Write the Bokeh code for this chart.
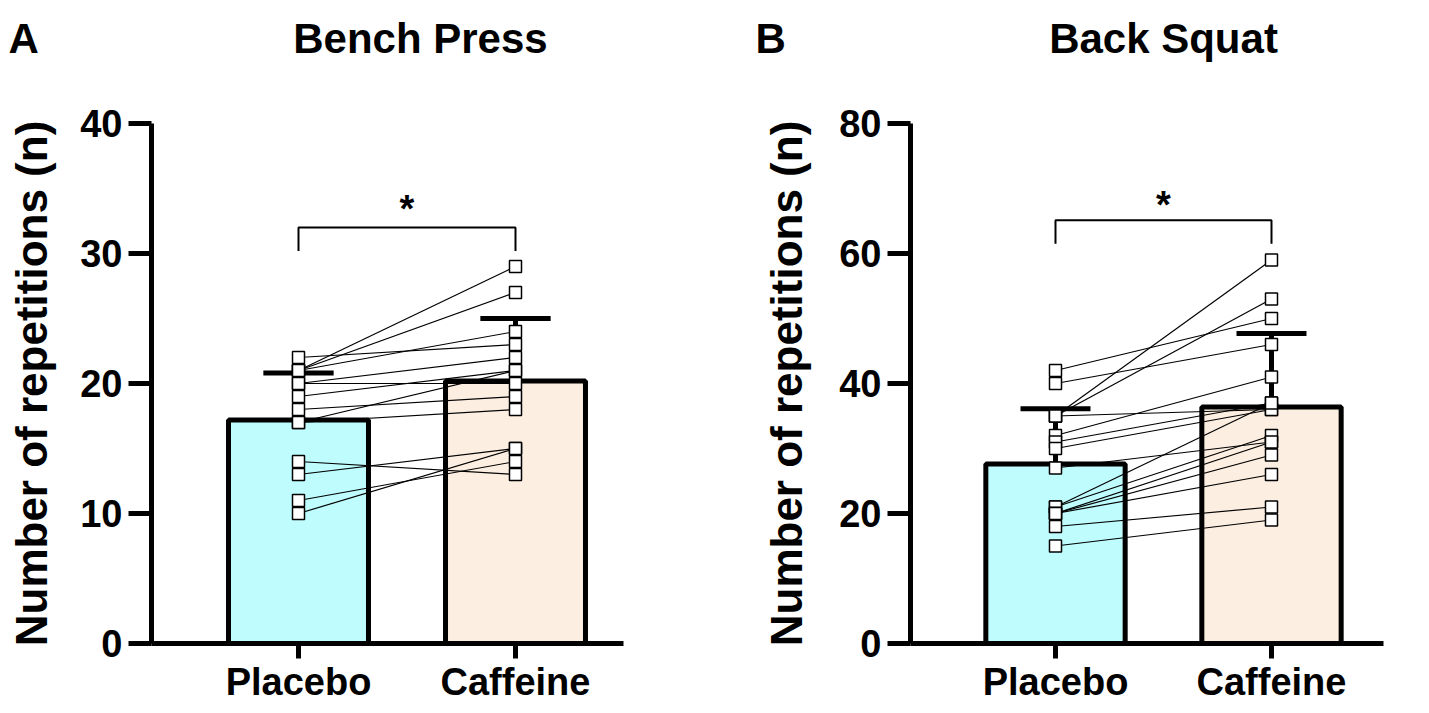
from bokeh.plotting import figure
from bokeh.layouts import row
from bokeh.models import Label, FixedTicker, LinearAxis
from bokeh.embed import file_html
from bokeh.resources import INLINE

# ---------------- data ----------------
groups = ["Placebo", "Caffeine"]

bench_placebo = [22, 21, 21, 21, 20, 20, 19, 18, 17, 17, 14, 13, 11, 10]
bench_caffeine = [23, 29, 27, 24, 20, 22, 21, 19, 21, 18, 13, 15, 14, 15]
bench_mean = [17.2, 20.2]
bench_sd = [3.6, 4.8]
bench_ticks = [0, 10, 20, 30, 40]

squat_placebo = [42, 40, 35, 35, 35, 32, 31, 30, 27, 21, 21, 20, 20, 20, 18, 15]
squat_caffeine = [50, 46, 59, 53, 36, 41, 37, 36, 31, 37, 32, 29, 31, 26, 21, 19]
squat_mean = [27.6, 36.4]
squat_sd = [8.5, 11.3]
squat_ticks = [0, 20, 40, 60, 80]

bar_colors = ["#BFFCFD", "#FCEEE0"]
FONT = "Liberation Sans"
H = 706


def make_panel(letter, letter_x, title, title_x, placebo, caffeine, mean, sd, ticks,
               width, x_range, y_range, yaxis_x, xaxis_end, bracket, star_y, title_y,
               ylabel_standoff):
    ymax = ticks[-1]
    p = figure(width=width, height=H, output_backend="svg", toolbar_location=None,
               x_range=x_range, y_range=y_range, x_axis_type=None, y_axis_type=None,
               min_border_left=0, min_border_right=0, min_border_top=0, min_border_bottom=0)
    p.outline_line_color = None
    p.background_fill_color = "white"
    p.border_fill_color = "white"

    xs = [1, 2]
    # bars
    p.vbar(x=xs, top=mean, width=0.645, bottom=0, fill_color=bar_colors,
           line_color="black", line_width=5)
    # error bars (upward only)
    tops = [m + s for m, s in zip(mean, sd)]
    p.segment(x0=xs, y0=mean, x1=xs, y1=tops, line_color="black", line_width=5)
    p.segment(x0=[x - 0.162 for x in xs], y0=tops, x1=[x + 0.162 for x in xs], y1=tops,
              line_color="black", line_width=5)
    # paired lines
    p.multi_line(xs=[[1, 2] for _ in placebo],
                 ys=[[a, b] for a, b in zip(placebo, caffeine)],
                 line_color="black", line_width=1.2)
    # points
    p.scatter(x=[1] * len(placebo) + [2] * len(caffeine), y=placebo + caffeine,
              marker="square", size=12, fill_color="white", line_color="black",
              line_width=1.5)
    # significance bracket
    y_low, y_high = bracket
    p.line(x=[1, 1, 2, 2], y=[y_low, y_high, y_high, y_low], line_color="black", line_width=2)
    p.add_layout(Label(x=1.5, y=star_y, text="*", text_align="center",
                       text_baseline="alphabetic",
                       text_font=FONT, text_font_style="bold", text_font_size="38px",
                       text_color="black"))
    # title and panel letter
    p.add_layout(Label(x=title_x, y=title_y, text=title, text_align="center",
                       text_baseline="alphabetic",
                       text_font=FONT, text_font_style="bold", text_font_size="42px",
                       text_color="black"))
    p.add_layout(Label(x=letter_x, y=title_y, text=letter, text_align="left",
                       text_baseline="alphabetic", text_font=FONT, text_font_style="bold",
                       text_font_size="42px", text_color="black"))

    # axes
    xa = LinearAxis(fixed_location=0, bounds=(yaxis_x, xaxis_end))
    xa.ticker = FixedTicker(ticks=xs)
    xa.major_label_overrides = {1: groups[0], 2: groups[1]}
    xa.axis_line_width = 5
    xa.major_tick_line_width = 5
    xa.major_tick_out = 15
    xa.major_tick_in = 0
    xa.minor_tick_line_color = None
    xa.major_label_standoff = 2
    xa.major_label_text_font = FONT
    xa.major_label_text_font_style = "bold"
    xa.major_label_text_font_size = "38px"
    xa.major_label_text_color = "black"
    p.add_layout(xa, "below")

    ya = LinearAxis(fixed_location=yaxis_x, bounds=(0, ymax))
    ya.ticker = FixedTicker(ticks=ticks)
    ya.axis_line_width = 5
    ya.major_tick_line_width = 5
    ya.major_tick_out = 23
    ya.major_tick_in = 0
    ya.minor_tick_line_color = None
    ya.major_label_standoff = 6
    ya.major_label_text_font = FONT
    ya.major_label_text_font_style = "bold"
    ya.major_label_text_font_size = "38px"
    ya.major_label_text_color = "black"
    ya.axis_label = "Number of repetitions (n)"
    ya.axis_label_text_font = FONT
    ya.axis_label_text_font_style = "bold"
    ya.axis_label_text_font_size = "44px"
    ya.axis_label_text_color = "black"
    ya.axis_label_standoff = ylabel_standoff
    p.add_layout(ya, "left")
    return p


# Panel A: 217 px per category unit, 13 px per repetition
pA = make_panel("A", -0.336, "Bench Press", 1.562, bench_placebo, bench_caffeine,
                bench_mean, bench_sd, bench_ticks, width=706,
                x_range=(-0.3733, 2.8802), y_range=(-(H - 643) / 13, 643 / 13),
                yaxis_x=0.3226, xaxis_end=2.4977,
                bracket=(30.2, 32.0), star_y=33.4, title_y=46.54, ylabel_standoff=21)
# Panel B: 216 px per category unit, 6.5 px per repetition
pB = make_panel("B", -0.389, "Back Squat", 1.5, squat_placebo, squat_caffeine,
                squat_mean, squat_sd, squat_ticks, width=707,
                x_range=(-0.6157, 2.6574), y_range=(-(H - 643) / 6.5, 643 / 6.5),
                yaxis_x=0.3287, xaxis_end=2.5185,
                bracket=(61.5, 65.1), star_y=67.5, title_y=93.08, ylabel_standoff=25)

layout = row(pA, pB)
open("out.html", "w").write(file_html(layout, INLINE))
